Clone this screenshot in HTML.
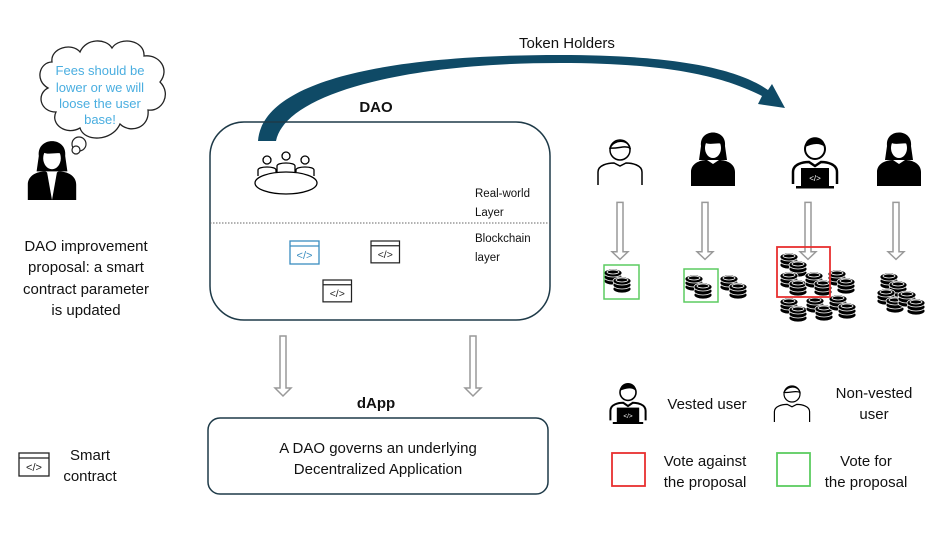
<!DOCTYPE html>
<html><head><meta charset="utf-8"><style>
body{margin:0;background:#fff}
svg{display:block}
text{font-family:"Liberation Sans",sans-serif;fill:#111}
</style></head><body>
<svg width="947" height="533" viewBox="0 0 947 533" xmlns="http://www.w3.org/2000/svg">
<defs>
<g id="st">
<ellipse cx="0" cy="9" rx="9" ry="4" fill="#000" stroke="#fff" stroke-width="0.8"/>
<ellipse cx="0" cy="5" rx="9" ry="4" fill="#000" stroke="#fff" stroke-width="0.8"/>
<ellipse cx="0" cy="1" rx="9" ry="4" fill="#000" stroke="#fff" stroke-width="0.8"/>
<ellipse cx="0" cy="0" rx="6" ry="2" fill="none" stroke="#fff" stroke-width="0.8"/>
</g>
<g id="pr"><use href="#st"/><use href="#st" x="9" y="8"/></g>
<g id="code">
<rect x="0" y="0" width="30" height="23" fill="#fff" stroke="#222" stroke-width="1.3"/>
<line x1="0" y1="5" x2="30" y2="5" stroke="#222" stroke-width="1.2"/>
<text x="15" y="18" font-size="11" text-anchor="middle" style="fill:#222">&lt;/&gt;</text>
</g>
<g id="arr"><path d="M-3,0 H3 V52 H8 L0,60 L-8,52 H-3 Z" fill="#fff" stroke="#999" stroke-width="1.5"/></g>
<g id="woman">
<path d="M-12,-30 C-14,-48 14,-48 12,-30 L14,-16 L-14,-16 Z" fill="#000"/>
<ellipse cx="0" cy="-28" rx="8" ry="10" fill="#fff"/>
<path d="M-9,-34 C-4,-30 4,-34 9,-32 L8,-40 L-8,-40 Z" fill="#000"/>
<path d="M-22,10 V-4 C-22,-12 -14,-16 -6,-16 L0,-12 L6,-16 C14,-16 22,-12 22,-4 V10 Z" fill="#000"/>
</g>
<g id="man">
<circle cx="0" cy="-25" r="10" fill="none" stroke="#000" stroke-width="1.5"/>
<path d="M-10,-27 C-6,-36 8,-36 10,-27 C4,-30 -2,-26 -10,-27Z" fill="none" stroke="#000" stroke-width="1.5"/>
<path d="M-22,10 V-3 C-22,-10 -12,-12 -6,-12 L0,-9 L6,-12 C12,-12 22,-10 22,-3 V10" fill="none" stroke="#000" stroke-width="1.5"/>
</g>
<g id="dev">
<circle cx="0" cy="-27" r="10" fill="#fff" stroke="#000" stroke-width="2"/>
<path d="M-10,-29 C-10,-42 10,-42 10,-29 C4,-34 -3,-32 -10,-29Z" fill="#000"/>
<path d="M-22,8 V-4 C-22,-12 -12,-14 -6,-14 L0,-10 L6,-14 C12,-14 22,-12 22,-4 V8" fill="none" stroke="#000" stroke-width="2.5"/>
<rect x="-14" y="-8" width="28" height="18" fill="#000"/>
<rect x="-19" y="10" width="38" height="2.5" fill="#000"/>
<text x="0" y="5" font-size="8" text-anchor="middle" style="fill:#fff">&lt;/&gt;</text>
</g>
</defs>

<!-- Token holders curve -->
<text x="567" y="48" font-size="15" text-anchor="middle">Token Holders</text>
<path d="M258,141 C262,85 370,55 560,55 C680,55 740,70 768,90 L772,84 L785,108 L758,104 L762,96 C730,80 680,63 560,63 C400,63 285,95 276,141 Z" fill="#0f4a66"/>

<!-- thought cloud -->
<path d="M52,62 C50,48 72,42 80,52 C86,38 106,38 112,48 C120,36 145,40 144,56 C160,54 170,70 160,82 C172,94 162,112 148,110 C150,128 130,134 120,124 C112,142 84,142 80,128 C66,136 50,124 56,112 C40,112 36,94 48,88 C34,80 40,62 52,62 Z" fill="#fff" stroke="#222" stroke-width="1.3"/>
<circle cx="79" cy="144" r="7" fill="#fff" stroke="#222" stroke-width="1.2"/>
<circle cx="76" cy="150" r="4" fill="#fff" stroke="#222" stroke-width="1.2"/>
<g font-size="13" text-anchor="middle">
<text x="100" y="75" style="fill:#4aaee0">Fees should be</text>
<text x="100" y="92" style="fill:#4aaee0">lower or we will</text>
<text x="100" y="108" style="fill:#4aaee0">loose the user</text>
<text x="100" y="124" style="fill:#4aaee0">base!</text>
</g>
<use href="#woman" transform="translate(52,189) scale(1.1)"/>
<path d="M47,172 L52,200 L57,172 Z" fill="#fff"/>
<g font-size="15" text-anchor="middle">
<text x="86" y="251">DAO improvement</text>
<text x="86" y="272">proposal: a smart</text>
<text x="86" y="294">contract parameter</text>
<text x="86" y="315">is updated</text>
</g>

<!-- DAO box -->
<text x="376" y="112" font-size="15" font-weight="bold" text-anchor="middle">DAO</text>
<rect x="210" y="122" width="340" height="198" rx="34" fill="none" stroke="#1e3a48" stroke-width="1.5"/>
<line x1="210" y1="223" x2="550" y2="223" stroke="#666" stroke-width="1" stroke-dasharray="1.5,1.5"/>
<g fill="#fff" stroke="#000" stroke-width="1.3">
<circle cx="267" cy="160" r="4"/><circle cx="286" cy="156" r="4"/><circle cx="305" cy="160" r="4"/>
<path d="M258,176 V170 C258,166 276,166 276,170 V172 M277,172 V166 C277,162 295,162 295,166 V172 M296,172 V170 C296,166 314,166 314,170 V176" fill="none"/>
<ellipse cx="286" cy="183" rx="31" ry="11"/>
</g>
<text x="475" y="197" font-size="11.5">Real-world</text>
<text x="475" y="216" font-size="11.5">Layer</text>
<text x="475" y="242" font-size="11.5">Blockchain</text>
<text x="475" y="261" font-size="11.5">layer</text>
<g transform="translate(290,241)">
<rect x="0" y="0" width="29" height="23" fill="#fff" stroke="#3a8dc0" stroke-width="1.3"/>
<line x1="0" y1="5" x2="29" y2="5" stroke="#3a8dc0" stroke-width="1.2"/>
<text x="14.5" y="18" font-size="11" text-anchor="middle" style="fill:#3a8dc0">&lt;/&gt;</text>
</g>
<use href="#code" transform="translate(371,241) scale(0.95)"/>
<use href="#code" transform="translate(323,280) scale(0.95)"/>

<use href="#arr" transform="translate(283,336)"/>
<use href="#arr" transform="translate(473,336)"/>

<text x="376" y="408" font-size="15" font-weight="bold" text-anchor="middle">dApp</text>
<rect x="208" y="418" width="340" height="76" rx="12" fill="none" stroke="#1e3a48" stroke-width="1.5"/>
<text x="378" y="453" font-size="15" text-anchor="middle">A DAO governs an underlying</text>
<text x="378" y="474" font-size="15" text-anchor="middle">Decentralized Application</text>

<use href="#code" transform="translate(19,453) scale(1)"/>
<text x="90" y="460" font-size="15" text-anchor="middle">Smart</text>
<text x="90" y="481" font-size="15" text-anchor="middle">contract</text>

<!-- token holders -->
<use href="#man" transform="translate(620,175)"/>
<use href="#woman" transform="translate(713,176)"/>
<use href="#dev" transform="translate(815,176)"/>
<use href="#woman" transform="translate(899,176)"/>
<g transform="scale(1,0.95)">
<use href="#arr" transform="translate(620,213)"/>
<use href="#arr" transform="translate(705,213)"/>
<use href="#arr" transform="translate(808,213)"/>
<use href="#arr" transform="translate(896,213)"/>
</g>

<use href="#pr" x="613" y="272"/>
<rect x="604" y="265" width="35" height="34" fill="none" stroke="#5ccc60" stroke-width="1.5"/>
<use href="#pr" x="694" y="278"/>
<use href="#pr" x="729" y="278"/>
<rect x="684" y="269" width="34" height="33" fill="none" stroke="#5ccc60" stroke-width="1.5"/>
<use href="#pr" x="789" y="256"/>
<use href="#pr" x="789" y="275"/>
<use href="#pr" x="814" y="275"/>
<use href="#pr" x="837" y="273"/>
<use href="#pr" x="789" y="301"/>
<use href="#pr" x="815" y="300"/>
<use href="#pr" x="838" y="298"/>
<rect x="777" y="247" width="53" height="50" fill="none" stroke="#e83030" stroke-width="1.8"/>
<use href="#pr" x="889" y="276"/>
<use href="#pr" x="886" y="292"/>
<use href="#pr" x="907" y="294"/>

<!-- legend -->
<use href="#dev" transform="translate(628,414) scale(0.8)"/>
<text x="707" y="409" font-size="15" text-anchor="middle">Vested user</text>
<use href="#man" transform="translate(792,414) scale(0.8)"/>
<text x="874" y="398" font-size="15" text-anchor="middle">Non-vested</text>
<text x="874" y="419" font-size="15" text-anchor="middle">user</text>
<rect x="612" y="453" width="33" height="33" fill="none" stroke="#e83030" stroke-width="1.8"/>
<text x="705" y="466" font-size="15" text-anchor="middle">Vote against</text>
<text x="705" y="487" font-size="15" text-anchor="middle">the proposal</text>
<rect x="777" y="453" width="33" height="33" fill="none" stroke="#5ccc60" stroke-width="1.8"/>
<text x="866" y="466" font-size="15" text-anchor="middle">Vote for</text>
<text x="866" y="487" font-size="15" text-anchor="middle">the proposal</text>
</svg>
</body></html>
